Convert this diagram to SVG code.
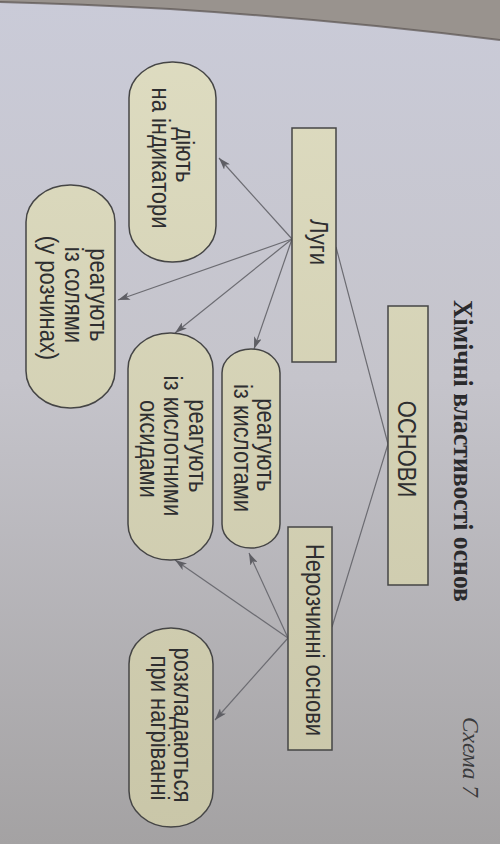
<svg xmlns="http://www.w3.org/2000/svg" width="500" height="844" viewBox="0 0 500 844">
<defs>
  <linearGradient id="paper" x1="0" y1="0" x2="0" y2="844" gradientUnits="userSpaceOnUse">
    <stop offset="0" stop-color="#cacbd8"/>
    <stop offset="0.45" stop-color="#c5c4cb"/>
    <stop offset="1" stop-color="#a4a2a3"/>
  </linearGradient>
  <linearGradient id="nodefill" x1="0" y1="0" x2="0" y2="844" gradientUnits="userSpaceOnUse">
    <stop offset="0" stop-color="#dfddc2"/>
    <stop offset="1" stop-color="#c9c6a8"/>
  </linearGradient>
  <marker id="ah" viewBox="0 0 12 8" refX="12" refY="4" markerWidth="12" markerHeight="8" orient="auto" markerUnits="userSpaceOnUse">
    <path d="M0,0 L12,4 L0,8 L3,4 Z" fill="#5e5e64"/>
  </marker>
  <style>
    .box { fill: url(#nodefill); stroke: #454545; stroke-width: 1.5; }
    .lbl { font-family: "Liberation Sans", Arial, sans-serif; font-size: 22px; fill: #2e2e30; text-anchor: middle; }
    .conn { fill: none; stroke: #6c6c72; stroke-width: 1.2; }
    .title { font-family: "Liberation Serif", "Times New Roman", serif; font-weight: bold; font-size: 24px; fill: #2a2a2c; }
    .scheme { font-family: "Liberation Serif", "Times New Roman", serif; font-style: italic; font-size: 21px; fill: #3a3a3c; }
  </style>
</defs>

<rect x="0" y="0" width="500" height="844" fill="url(#paper)"/>
<path d="M0,0 L500,0 L500,40 Q340,20 170,9 Q80,4 0,2 Z" fill="#99938e"/>
<path d="M0,2 Q80,4 170,9 Q340,20 500,40" fill="none" stroke="#5a5350" stroke-width="2" opacity="0.7"/>

<text class="title" transform="translate(460,300) rotate(90) scale(1,1.15)" x="0" y="5.2" textLength="302" lengthAdjust="spacingAndGlyphs">Хімічні властивості основ</text>
<text class="scheme" transform="translate(469,717) rotate(90) scale(1,1.1)" x="0" y="5" textLength="80" lengthAdjust="spacingAndGlyphs">Схема 7</text>

<g id="connectors">
  <polyline class="conn" points="336,247 388,444 332,627"/>
  <line class="conn" x1="292" y1="239" x2="219" y2="158" marker-end="url(#ah)"/>
  <line class="conn" x1="292" y1="239" x2="118" y2="300" marker-end="url(#ah)"/>
  <line class="conn" x1="292" y1="239" x2="175" y2="333" marker-end="url(#ah)"/>
  <line class="conn" x1="292" y1="239" x2="254" y2="349" marker-end="url(#ah)"/>
  <line class="conn" x1="288" y1="638" x2="249" y2="553" marker-end="url(#ah)"/>
  <line class="conn" x1="288" y1="638" x2="175" y2="560" marker-end="url(#ah)"/>
  <line class="conn" x1="288" y1="638" x2="215" y2="720" marker-end="url(#ah)"/>
</g>

<g id="osnovy">
  <rect class="box" x="388" y="306" width="40" height="279"/>
  <text class="lbl" transform="translate(408,449) rotate(90) scale(1,1.15)" x="0" y="8.3">ОСНОВИ</text>
</g>

<g id="lugy">
  <rect class="box" x="292" y="128" width="44" height="234"/>
  <text class="lbl" transform="translate(314,242) rotate(90) scale(1,1.15)" x="0" y="3.1">Луги</text>
</g>

<g id="nerozchynni">
  <rect class="box" x="288" y="527" width="44" height="223"/>
  <text class="lbl" transform="translate(310,640) rotate(90) scale(1,1.15)" x="0" y="3.1">Нерозчинні основи</text>
</g>

<g id="indykatory">
  <rect class="box" x="129" y="62" width="87" height="200" rx="43" ry="36"/>
  <text class="lbl" transform="translate(172.5,158) rotate(90) scale(1,1.15)">
    <tspan x="0" y="-3.4">діють</tspan>
    <tspan x="0" y="17.4">на індикатори</tspan>
  </text>
</g>

<g id="soli">
  <rect class="box" x="26" y="185" width="89" height="223" rx="44" ry="37"/>
  <text class="lbl" transform="translate(70.5,298) rotate(90) scale(1,1.15)">
    <tspan x="0" y="-17.3">реагують</tspan>
    <tspan x="0" y="4.4">із солями</tspan>
    <tspan x="0" y="26.1">(у розчинах)</tspan>
  </text>
</g>

<g id="kysloty">
  <rect class="box" x="222" y="349" width="58" height="199" rx="29" ry="24"/>
  <text class="lbl" transform="translate(251,448) rotate(90) scale(1,1.15)">
    <tspan x="0" y="-5.6">реагують</tspan>
    <tspan x="0" y="14.8">із кислотами</tspan>
  </text>
</g>

<g id="oksydy">
  <rect class="box" x="128" y="333" width="85" height="227" rx="42" ry="36"/>
  <text class="lbl" transform="translate(170.5,449) rotate(90) scale(1,1.15)">
    <tspan x="0" y="-16.5">реагують</tspan>
    <tspan x="0" y="5.3">із кислотними</tspan>
    <tspan x="0" y="26.1">оксидами</tspan>
  </text>
</g>

<g id="rozklad">
  <rect class="box" x="129" y="628" width="84" height="199" rx="42" ry="36"/>
  <text class="lbl" transform="translate(171,728) rotate(90) scale(1,1.15)">
    <tspan x="0" y="-3.0">розкладаються</tspan>
    <tspan x="0" y="17.0">при нагріванні</tspan>
  </text>
</g>
</svg>
